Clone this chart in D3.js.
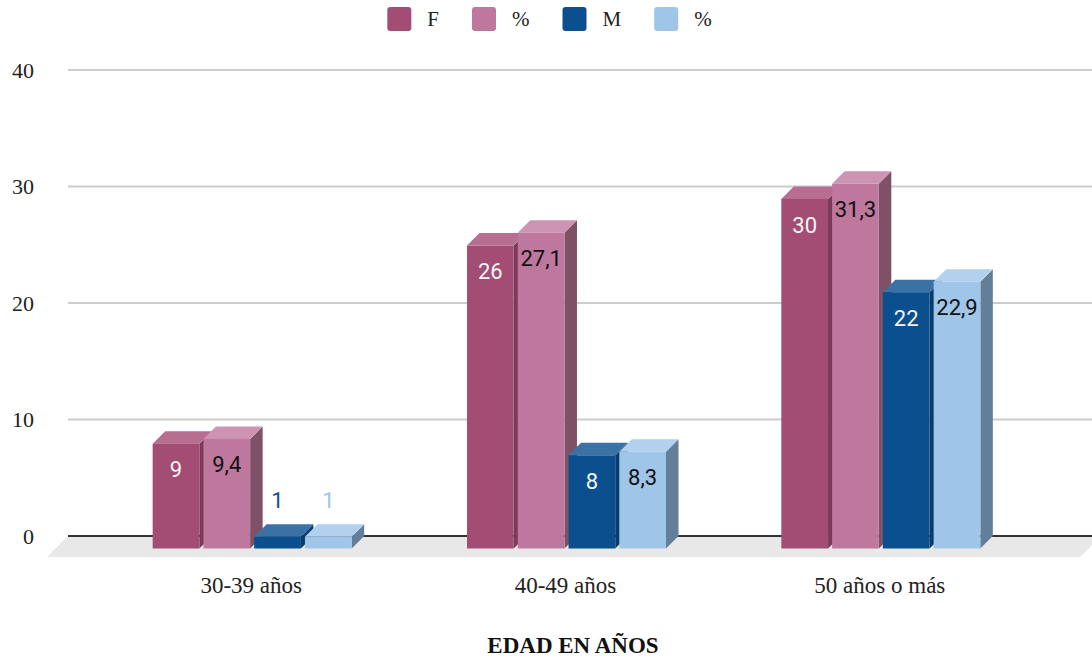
<!DOCTYPE html>
<html lang="es">
<head>
<meta charset="utf-8">
<script src="https://cdn.jsdelivr.net/npm/d3@7"></script>
<style>
  html, body { margin: 0; padding: 0; background: #fff; }
  svg { display: block; }
</style>
</head>
<body>
<svg id="chart" width="1092" height="659"></svg>
<script>
// Age groups and series values
const categories = ["30-39 años", "40-49 años", "50 años o más"];
const seriesNames = ["F", "%", "M", "%"];
const femaleCount = [9, 26, 30];
const femalePct = [9.4, 27.1, 31.3];
const maleCount = [1, 8, 22];
const malePct = [1, 8.3, 22.9];
const yTicks = [0, 10, 20, 30, 40];
const axisTitle = "EDAD EN AÑOS";

const seriesValues = [femaleCount, femalePct, maleCount, malePct];

// Face colours per series: front, top, side
const palette = [
  { front: "#a34c74", top: "#b86e91", side: "#7a3a58", label: "#f4f4f4" },
  { front: "#be779d", top: "#cd93b3", side: "#7e5167", label: "#111111" },
  { front: "#0b4f8f", top: "#3b72a6", side: "#083c6d", label: "#f4f4f4" },
  { front: "#9fc5e8", top: "#b1d1ef", side: "#637e99", label: "#111111" }
];

const svg = d3.select("#chart");
const depth = 12.5;           // 3D offset of the bar back plane
const floorDepth = 21;        // 3D offset of the floor slab

// Back-plane scale (grid lines live here)
const y = d3.scaleLinear().domain([0, 40]).range([536, 70]);
const x0 = d3.scaleBand().domain(categories).range([95, 1038]).padding(0);
const x1 = d3.scaleBand().domain(d3.range(seriesNames.length))
  .range([-99.5, 99.5]).paddingInner(0.08);

const serif = "'Liberation Serif', 'Times New Roman', serif";
const sans = "Roboto, 'Open Sans', sans-serif";

// Floor slab
const fx0 = 68, fx1 = 1101, fy = y(0);
svg.append("path")
  .attr("d", `M${fx0},${fy}L${fx1},${fy}L${fx1 - floorDepth},${fy + floorDepth}L${fx0 - floorDepth},${fy + floorDepth}Z`)
  .attr("fill", "#e8e8e8");

// Grid lines and y-axis labels
const grid = svg.append("g");
yTicks.forEach(t => {
  grid.append("line")
    .attr("x1", 68).attr("x2", 1092)
    .attr("y1", y(t)).attr("y2", y(t))
    .attr("stroke", t === 0 ? "#333" : "#cccccc")
    .attr("stroke-width", 2);
  grid.append("text")
    .attr("x", 34).attr("y", y(t))
    .attr("text-anchor", "end")
    .attr("dominant-baseline", "central")
    .attr("font-family", serif)
    .attr("font-size", 22)
    .attr("fill", "#222")
    .text(t);
});

// Bars drawn left to right so each front face covers the previous side face
const bars = svg.append("g");
const fmt = v => String(v).replace(".", ",");
categories.forEach((cat, ci) => {
  seriesValues.forEach((vals, si) => {
    const v = vals[ci];
    const c = palette[si];
    const xf = x0(cat) + x0.bandwidth() / 2 + x1(si);
    const w = x1.bandwidth();
    const yb = y(v);              // back top
    const yf = yb + depth;        // front top
    const base = y(0) + depth;    // front bottom
    const g = bars.append("g");
    // side face
    g.append("path")
      .attr("d", `M${xf + w},${yf}L${xf + w + depth},${yb}L${xf + w + depth},${y(0)}L${xf + w},${base}Z`)
      .attr("fill", c.side);
    // top face
    g.append("path")
      .attr("d", `M${xf},${yf}L${xf + depth},${yb}L${xf + w + depth},${yb}L${xf + w},${yf}Z`)
      .attr("fill", c.top);
    // front face
    g.append("rect")
      .attr("x", xf).attr("y", yf)
      .attr("width", w).attr("height", base - yf)
      .attr("fill", c.front);
    // value label
    const inside = (base - yf) > 40;
    g.append("text")
      .attr("x", xf + w / 2)
      .attr("y", inside ? yf + 26 : yb - 24)
      .attr("text-anchor", "middle")
      .attr("dominant-baseline", "central")
      .attr("font-family", sans)
      .attr("font-size", 22)
      .attr("fill", inside ? c.label : c.front)
      .text(fmt(v));
  });
});

// Category labels
categories.forEach(cat => {
  svg.append("text")
    .attr("x", x0(cat) + x0.bandwidth() / 2 - 1)
    .attr("y", 585)
    .attr("text-anchor", "middle")
    .attr("dominant-baseline", "central")
    .attr("font-family", serif)
    .attr("font-size", 23)
    .attr("fill", "#222")
    .text(cat);
});

// Axis title
svg.append("text")
  .attr("x", 573).attr("y", 645)
  .attr("text-anchor", "middle")
  .attr("dominant-baseline", "central")
  .attr("font-family", serif)
  .attr("font-weight", "bold")
  .attr("font-size", 23)
  .attr("fill", "#111")
  .text(axisTitle);

// Legend, laid out from measured text widths and centred
const legend = svg.append("g");
const items = seriesNames.map((name, i) => {
  const g = legend.append("g");
  g.append("rect").attr("x", 0).attr("y", 7).attr("width", 24).attr("height", 24)
    .attr("rx", 3).attr("fill", palette[i].front);
  const t = g.append("text").attr("x", 40).attr("y", 19)
    .attr("dominant-baseline", "central")
    .attr("font-family", serif).attr("font-size", 21).attr("fill", "#222")
    .text(name);
  return { g, w: 40 + t.node().getComputedTextLength() };
});
const gap = 33;
const total = d3.sum(items, d => d.w) + gap * (items.length - 1);
let cx = 549.5 - total / 2;
items.forEach(it => { it.g.attr("transform", `translate(${cx},0)`); cx += it.w + gap; });
</script>
</body>
</html>
